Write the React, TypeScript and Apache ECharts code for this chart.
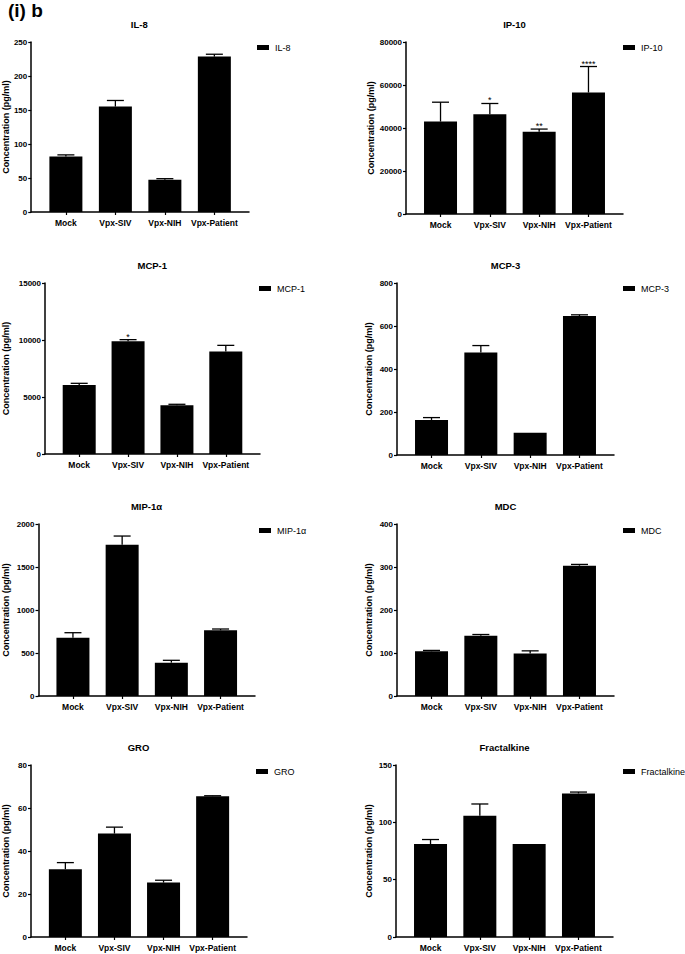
import React, { useEffect, useRef } from 'react';
import * as echarts from 'echarts';

const categories = ['Mock', 'Vpx-SIV', 'Vpx-NIH', 'Vpx-Patient'];
const yAxisTitle = 'Concentration (pg/ml)';
const figureLabel = '(i) b';

const panelNames = ['IL-8', 'IP-10', 'MCP-1', 'MCP-3', 'MIP-1α', 'MDC', 'GRO', 'Fractalkine'];

const il8Values = [81.7, 155, 47.5, 228.5];
const il8Err = [2.3, 9, 1.5, 3.5];
const ip10Values = [43000, 46400, 38300, 56500];
const ip10Err = [9000, 5000, 1200, 12100];
const mcp1Values = [6050, 9880, 4270, 9000];
const mcp1Err = [150, 150, 90, 530];
const mcp3Values = [163, 477, 104, 646];
const mcp3Err = [11, 32, 0, 6];
const mip1aValues = [678, 1760, 388, 764];
const mip1aErr = [58, 100, 27, 15];
const mdcValues = [104, 140, 99, 303];
const mdcErr = [2, 3, 6, 3];
const groValues = [31.5, 48.1, 25.3, 65.5];
const groErr = [3.1, 3, 1.1, 0.2];
const fractalkineValues = [81, 105.7, 81, 125.2];
const fractalkineErr = [4, 10.3, 0, 1.2];

const ip10Stars = ['', '*', '**', '****'];
const mcp1Stars = ['', '*', '', ''];
const noStars = ['', '', '', ''];

const yMaxes = [250, 80000, 15000, 800, 2000, 400, 80, 150];
const yIntervals = [50, 20000, 5000, 200, 500, 100, 20, 50];

const panelValues = [il8Values, ip10Values, mcp1Values, mcp3Values, mip1aValues, mdcValues, groValues, fractalkineValues];
const panelErrs = [il8Err, ip10Err, mcp1Err, mcp3Err, mip1aErr, mdcErr, groErr, fractalkineErr];
const panelStars = [noStars, ip10Stars, mcp1Stars, noStars, noStars, noStars, noStars, noStars];

// layout (pixels): axis left, top, right end, bottom (zero line), name gap, legend x, legend y
const layouts = [
  { l: 29.5, t: 42, r: 249, b: 212, ng: 20, lx: 257, ly: 48 },
  { l: 406, t: 42, r: 623, b: 214, ng: 24, lx: 623, ly: 48 },
  { l: 44.5, t: 283, r: 260, b: 454, ng: 35, lx: 259, ly: 289 },
  { l: 397, t: 283, r: 614, b: 455, ng: 24, lx: 623, ly: 289 },
  { l: 38, t: 524, r: 255, b: 696, ng: 28.5, lx: 259, ly: 531 },
  { l: 397, t: 524, r: 614, b: 696, ng: 24, lx: 623, ly: 531 },
  { l: 30, t: 765, r: 247, b: 937, ng: 21, lx: 256, ly: 772 },
  { l: 396, t: 765, r: 613, b: 937, ng: 23, lx: 623, ly: 772 },
];

const FONT = '"Liberation Sans", Arial, sans-serif';

export default function App() {
  const ref = useRef<HTMLDivElement>(null);
  useEffect(() => {
    if (!ref.current) return;
    const chart = echarts.init(ref.current, undefined, { renderer: 'svg' });
    const grid: any[] = [];
    const xAxis: any[] = [];
    const yAxis: any[] = [];
    const series: any[] = [];
    const legend: any[] = [];
    const graphic: any[] = [
      {
        type: 'text',
        x: 8,
        y: 1,
        style: { text: figureLabel, font: `bold 19px ${FONT}`, fill: '#000', textVerticalAlign: 'top', verticalAlign: 'top' },
      },
    ];
    panelNames.forEach((name, i) => {
      const L = layouts[i];
      grid.push({ left: L.l, top: L.t, width: L.r - L.l, height: L.b - L.t });
      xAxis.push({
        type: 'value',
        gridIndex: i,
        min: -0.7,
        max: 3.7,
        axisLine: { show: true, onZero: false, lineStyle: { color: '#000', width: 1.5 } },
        axisTick: { show: true, customValues: [0, 1, 2, 3], length: 3, lineStyle: { color: '#000', width: 1.2 } },
        axisLabel: {
          customValues: [0, 1, 2, 3],
          formatter: (v: number) => categories[Math.round(v)] ?? '',
          fontFamily: FONT,
          fontWeight: 'bold',
          fontSize: 8.5,
          color: '#000',
          margin: 6,
        },
        splitLine: { show: false },
      });
      yAxis.push({
        type: 'value',
        gridIndex: i,
        min: 0,
        max: yMaxes[i],
        interval: yIntervals[i],
        name: yAxisTitle,
        nameLocation: 'middle',
        nameGap: L.ng,
        nameTextStyle: { fontFamily: FONT, fontWeight: 'bold', fontSize: 9, color: '#000' },
        axisLine: { show: true, onZero: false, lineStyle: { color: '#000', width: 1.5 } },
        axisTick: { show: true, length: 3, lineStyle: { color: '#000', width: 1.2 } },
        axisLabel: {
          formatter: (v: number) => String(v),
          fontFamily: FONT,
          fontWeight: 'bold',
          fontSize: 8,
          color: '#000',
          margin: 4,
        },
        splitLine: { show: false },
      });
      const vals = panelValues[i];
      const errs = panelErrs[i];
      const stars = panelStars[i];
      series.push({
        type: 'bar',
        name,
        xAxisIndex: i,
        yAxisIndex: i,
        barWidth: 33,
        itemStyle: { color: '#000' },
        data: vals.map((v, k) => [k, v]),
      });
      series.push({
        type: 'custom',
        name: name + ' error',
        xAxisIndex: i,
        yAxisIndex: i,
        z: 5,
        encode: { x: 0, y: 1 },
        data: vals.map((v, k) => [k, v, errs[k]]),
        renderItem: (params: any, api: any) => {
          const x = api.value(0);
          const v = api.value(1);
          const e = api.value(2);
          const base = api.coord([x, v]);
          const top = api.coord([x, v + e]);
          const children: any[] = [];
          const st = { stroke: '#000', lineWidth: 1.3 };
          if (e > 0) {
            children.push({ type: 'line', shape: { x1: base[0], y1: base[1], x2: top[0], y2: top[1] }, style: st });
            children.push({ type: 'line', shape: { x1: top[0] - 8.5, y1: top[1], x2: top[0] + 8.5, y2: top[1] }, style: st });
          }
          const s = stars[params.dataIndex];
          if (s) {
            children.push({
              type: 'text',
              x: top[0],
              y: top[1] + 1.5,
              style: {
                text: s,
                font: `9px ${FONT}`,
                fill: '#000',
                textAlign: 'center',
                align: 'center',
                textVerticalAlign: 'bottom',
                verticalAlign: 'bottom',
              },
            });
          }
          return { type: 'group', children };
        },
      });
      legend.push({
        data: [name],
        left: L.lx,
        top: L.ly - 5,
        padding: 0,
        icon: 'rect',
        itemWidth: 12,
        itemHeight: 5,
        itemGap: 5,
        selectedMode: false,
        textStyle: { fontFamily: FONT, fontSize: 9, color: '#000', padding: [0, 0, 0, 1] },
      });
      graphic.push({
        type: 'text',
        x: (L.l + L.r) / 2,
        y: L.t - 18,
        style: {
          text: name,
          font: `bold 9.5px ${FONT}`,
          fill: '#000',
          textAlign: 'center',
          align: 'center',
          textVerticalAlign: 'middle',
          verticalAlign: 'middle',
        },
      });
    });
    chart.setOption({
      animation: false,
      backgroundColor: '#fff',
      grid,
      xAxis,
      yAxis,
      series,
      legend,
      graphic,
    });
    return () => chart.dispose();
  }, []);
  return (
    <div
      ref={ref}
      style={{ position: 'absolute', left: 0, top: 0, width: 685, height: 954, background: '#fff' }}
    />
  );
}
